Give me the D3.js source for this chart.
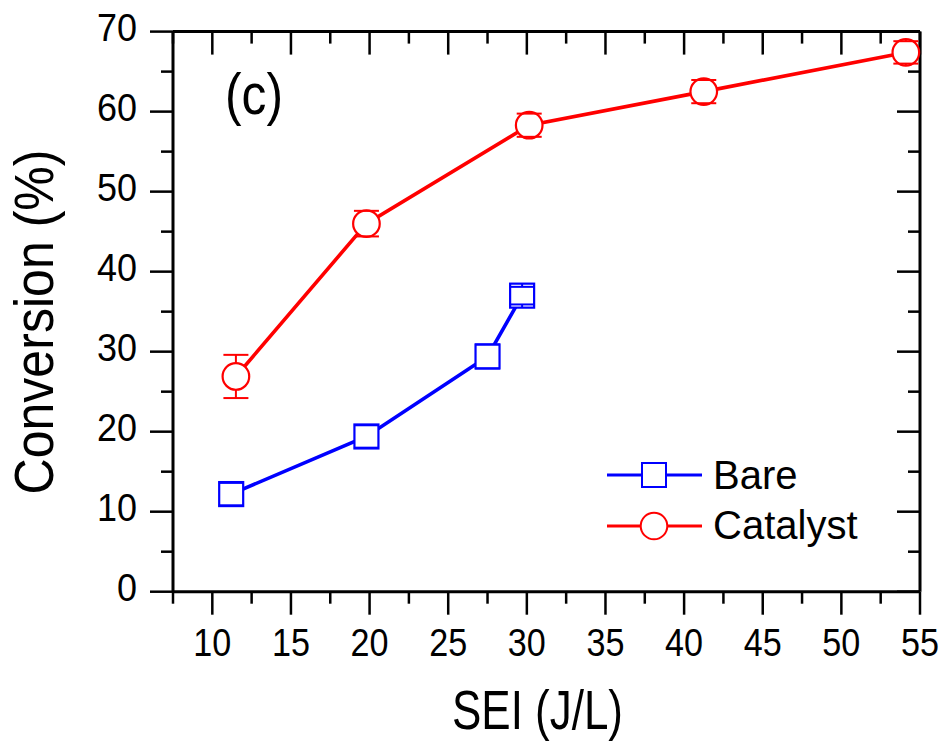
<!DOCTYPE html>
<html>
<head>
<meta charset="utf-8">
<script src="https://cdn.jsdelivr.net/npm/d3@7"></script>
<style>
  html, body { margin: 0; padding: 0; background: #fff; }
  svg { display: block; font-family: "Liberation Sans", Arial, sans-serif; }
</style>
</head>
<body>
<svg id="chart" width="944" height="742"></svg>
<script>
// Conversion vs. specific energy input, bare discharge and with catalyst
const bareSEI = [11.2, 19.8, 27.5, 29.7];
const bareConv = [12.2, 19.4, 29.4, 37.0];
const bareErr = [1.4, 1.4, 1.5, 1.1];

const catSEI = [11.5, 19.8, 30.15, 41.25, 54.1];
const catConv = [26.9, 46.0, 58.3, 62.5, 67.4];
const catErr = [2.7, 1.6, 1.45, 1.45, 1.4];

const xMajorTicks = [10, 15, 20, 25, 30, 35, 40, 45, 50, 55];
const xMinorTicks = [7.5, 12.5, 17.5, 22.5, 27.5, 32.5, 37.5, 42.5, 47.5, 52.5];
const yMajorTicks = [0, 10, 20, 30, 40, 50, 60, 70];
const yMinorTicks = [5, 15, 25, 35, 45, 55, 65];

const seriesNames = ["Bare", "Catalyst"];
const seriesColors = ["#0000ff", "#ff0000"];

const svg = d3.select("#chart");
const plotL = 173, plotR = 920, plotT = 31.6, plotB = 591.7;

const x = d3.scaleLinear().domain([7.5, 55]).range([plotL, plotR]);
const y = d3.scaleLinear().domain([0, 70]).range([plotB, plotT]);

const majorLen = 23, minorLen = 12;

// ---- axes (frame with ticks) ----
const axisG = svg.append("g").attr("stroke", "#000").attr("stroke-width", 2.5);

// frame lines
axisG.append("line").attr("x1", plotL).attr("x2", plotR).attr("y1", plotB).attr("y2", plotB).attr("stroke-width", 3);
axisG.append("line").attr("x1", plotL).attr("x2", plotR).attr("y1", plotT).attr("y2", plotT).attr("stroke-width", 3);
axisG.append("line").attr("x1", plotL).attr("x2", plotL).attr("y1", plotT).attr("y2", plotB).attr("stroke-width", 3);
axisG.append("line").attr("x1", plotR).attr("x2", plotR).attr("y1", plotT).attr("y2", plotB).attr("stroke-width", 3);

// bottom ticks (outward)
axisG.selectAll(null).data(xMajorTicks).join("line")
  .attr("x1", d => x(d)).attr("x2", d => x(d))
  .attr("y1", plotB).attr("y2", plotB + majorLen);
axisG.selectAll(null).data(xMinorTicks).join("line")
  .attr("x1", d => x(d)).attr("x2", d => x(d))
  .attr("y1", plotB).attr("y2", plotB + minorLen);
// top ticks (inward)
axisG.selectAll(null).data(xMajorTicks).join("line")
  .attr("x1", d => x(d)).attr("x2", d => x(d))
  .attr("y1", plotT).attr("y2", plotT + majorLen);
axisG.selectAll(null).data(xMinorTicks).join("line")
  .attr("x1", d => x(d)).attr("x2", d => x(d))
  .attr("y1", plotT).attr("y2", plotT + minorLen);
// left ticks (outward)
axisG.selectAll(null).data(yMajorTicks).join("line")
  .attr("y1", d => y(d)).attr("y2", d => y(d))
  .attr("x1", plotL).attr("x2", plotL - majorLen);
axisG.selectAll(null).data(yMinorTicks).join("line")
  .attr("y1", d => y(d)).attr("y2", d => y(d))
  .attr("x1", plotL).attr("x2", plotL - minorLen);
// right ticks (inward)
axisG.selectAll(null).data(yMajorTicks).join("line")
  .attr("y1", d => y(d)).attr("y2", d => y(d))
  .attr("x1", plotR).attr("x2", plotR - majorLen);
axisG.selectAll(null).data(yMinorTicks).join("line")
  .attr("y1", d => y(d)).attr("y2", d => y(d))
  .attr("x1", plotR).attr("x2", plotR - minorLen);

// tick labels (slightly condensed digits)
svg.append("g").selectAll("text").data(xMajorTicks).join("text")
  .attr("x", d => x(d)).attr("y", 656)
  .attr("text-anchor", "middle").attr("font-size", 38)
  .attr("textLength", 38).attr("lengthAdjust", "spacingAndGlyphs")
  .text(d => d);
svg.append("g").selectAll("text").data(yMajorTicks).join("text")
  .attr("x", 137).attr("y", d => y(d) + 9)
  .attr("text-anchor", "end").attr("font-size", 38)
  .attr("textLength", d => String(d).length > 1 ? 40 : 20)
  .attr("lengthAdjust", "spacingAndGlyphs")
  .text(d => d);

// axis titles
svg.append("text")
  .attr("x", 537.5).attr("y", 729)
  .attr("text-anchor", "middle").attr("font-size", 56)
  .attr("textLength", 171).attr("lengthAdjust", "spacingAndGlyphs")
  .text("SEI (J/L)");
svg.append("text")
  .attr("transform", "translate(53,322) rotate(-90)")
  .attr("text-anchor", "middle").attr("font-size", 56)
  .attr("textLength", 345).attr("lengthAdjust", "spacingAndGlyphs")
  .text("Conversion (%)");

// panel label
svg.append("text")
  .attr("x", 225).attr("y", 114)
  .attr("font-size", 58)
  .attr("textLength", 58).attr("lengthAdjust", "spacingAndGlyphs")
  .text("(c)");

// ---- series ----
const series = [
  { name: seriesNames[0], color: seriesColors[0], shape: "square",
    pts: bareSEI.map((s, i) => ({ sx: s, v: bareConv[i], e: bareErr[i] })) },
  { name: seriesNames[1], color: seriesColors[1], shape: "circle",
    pts: catSEI.map((s, i) => ({ sx: s, v: catConv[i], e: catErr[i] })) }
];

const half = 12;     // square half-size
const rad = 13.3;    // circle radius
const capHalf = 12.5;

const line = d3.line().x(d => x(d.sx)).y(d => y(d.v));

series.forEach(s => {
  const g = svg.append("g");
  g.append("path").datum(s.pts)
    .attr("d", line).attr("fill", "none")
    .attr("stroke", s.color).attr("stroke-width", 3.6);

  const edge = s.shape === "square" ? half : rad;

  // markers
  if (s.shape === "square") {
    g.selectAll("rect").data(s.pts).join("rect")
      .attr("x", d => x(d.sx) - half).attr("y", d => y(d.v) - half)
      .attr("width", half * 2).attr("height", half * 2)
      .attr("fill", "#fff").attr("stroke", s.color).attr("stroke-width", 2.2);
  } else {
    g.selectAll("circle").data(s.pts).join("circle")
      .attr("cx", d => x(d.sx)).attr("cy", d => y(d.v)).attr("r", rad)
      .attr("fill", "#fff").attr("stroke", s.color).attr("stroke-width", 2.2);
  }

  // error bars: stems from marker edge to caps
  const eb = g.append("g").attr("stroke", s.color).attr("stroke-width", 2);
  s.pts.forEach(d => {
    const cx = x(d.sx), cy = y(d.v);
    const yt = y(d.v + d.e), yb = y(d.v - d.e);
    eb.append("line").attr("x1", cx).attr("x2", cx).attr("y1", yt).attr("y2", cy - edge);
    eb.append("line").attr("x1", cx).attr("x2", cx).attr("y1", yb).attr("y2", cy + edge);
    eb.append("line").attr("x1", cx - capHalf).attr("x2", cx + capHalf).attr("y1", yt).attr("y2", yt);
    eb.append("line").attr("x1", cx - capHalf).attr("x2", cx + capHalf).attr("y1", yb).attr("y2", yb);
  });
});

// ---- legend ----
const legendRows = [
  { yLine: 475, yText: 489 },
  { yLine: 526, yText: 539 }
];
series.forEach((s, i) => {
  const g = svg.append("g");
  const ly = legendRows[i].yLine;
  g.append("line").attr("x1", 607).attr("x2", 702).attr("y1", ly).attr("y2", ly)
    .attr("stroke", s.color).attr("stroke-width", 3);
  if (s.shape === "square") {
    g.append("rect").attr("x", 654 - half).attr("y", ly - half)
      .attr("width", half * 2).attr("height", half * 2)
      .attr("fill", "#fff").attr("stroke", s.color).attr("stroke-width", 2);
  } else {
    g.append("circle").attr("cx", 654).attr("cy", ly).attr("r", rad)
      .attr("fill", "#fff").attr("stroke", s.color).attr("stroke-width", 2);
  }
  g.append("text").attr("x", 713).attr("y", legendRows[i].yText)
    .attr("font-size", 40).text(s.name);
});
</script>
</body>
</html>
